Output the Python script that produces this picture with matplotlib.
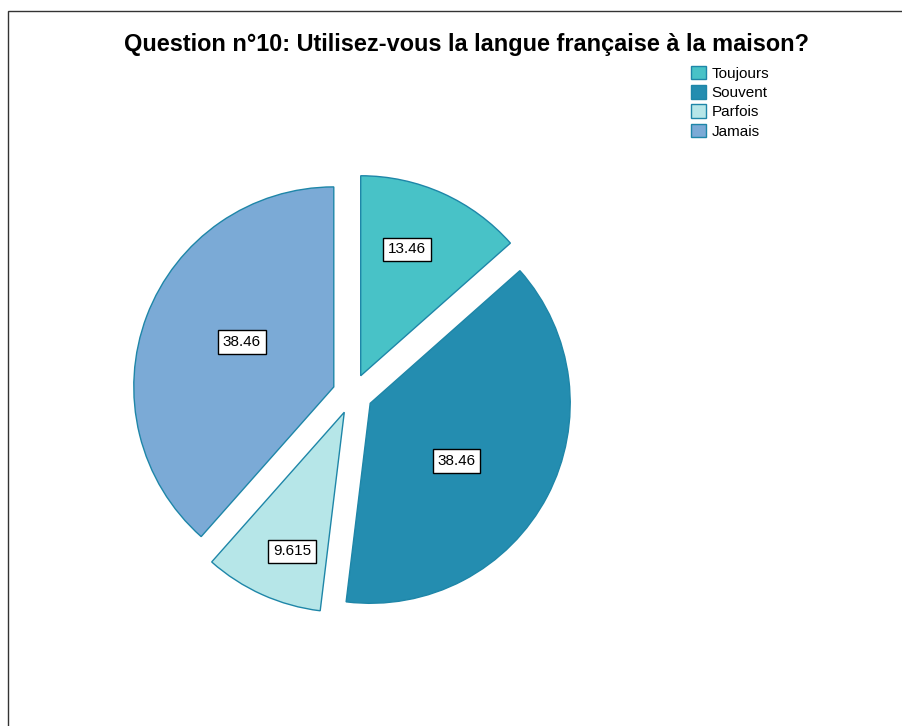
import matplotlib
matplotlib.use("Agg")
import matplotlib.pyplot as plt
import numpy as np
from matplotlib.patches import Rectangle

categories = ["Toujours", "Souvent", "Parfois", "Jamais"]
values = [13.46, 38.46, 9.615, 38.46]
labels_txt = ["13.46", "38.46", "9.615", "38.46"]
colors = ["#48C2C7", "#248DB0", "#B6E6E8", "#7BAAD6"]
label_dist = [0.673, 0.519, 0.742, 0.511]
label_angle_off = [4.1, -6.1, 3.6, -5.3]

W, H = 902, 726
fig = plt.figure(figsize=(W / 100, H / 100), dpi=100)
plt.rcParams['font.family'] = ['Liberation Sans', 'DejaVu Sans']
ax = fig.add_axes([0, 0, 1, 1])
ax.set_xlim(0, W)
ax.set_ylim(0, H)
ax.axis('off')

cx, cy, R = 352.5, H - 394, 200
wedges, _ = ax.pie(values, colors=colors, startangle=90, counterclock=False,
                   explode=[0.1 * R] * 4, center=(cx, cy), radius=R,
                   wedgeprops=dict(edgecolor="#1E86A8", linewidth=1.0))
ax.set_xlim(0, W)
ax.set_ylim(0, H)
ax.set_aspect('equal')

for w, t, f, da in zip(wedges, labels_txt, label_dist, label_angle_off):
    mid = np.deg2rad((w.theta1 + w.theta2) / 2 + da)
    x = w.center[0] + f * w.r * np.cos(mid)
    y = w.center[1] + f * w.r * np.sin(mid)
    ax.text(x, y, t, ha='center', va='center', fontsize=11, color='black',
            bbox=dict(boxstyle='square,pad=0.3', facecolor='white', edgecolor='black', linewidth=1.0))

fig.text(467 / W, 1 - 45 / H, "Question n°10: Utilisez-vous la langue française à la maison?",
         ha='center', va='center', fontsize=16.9, fontweight='bold')

leg = ax.legend(wedges, categories, loc='upper left', bbox_to_anchor=(680 / W, 1 - 55 / H),
                bbox_transform=fig.transFigure, frameon=False, fontsize=11,
                handlelength=1.0, handleheight=1.0, handletextpad=0.35,
                labelspacing=0.28, borderpad=0.2)

fig.patches.append(Rectangle((8 / W, 0 - 0.1), 1.2, 1 - 11 / H + 0.1, transform=fig.transFigure,
                             fill=False, edgecolor='#333333', linewidth=1.0))

fig.savefig("out.png", dpi=100)
